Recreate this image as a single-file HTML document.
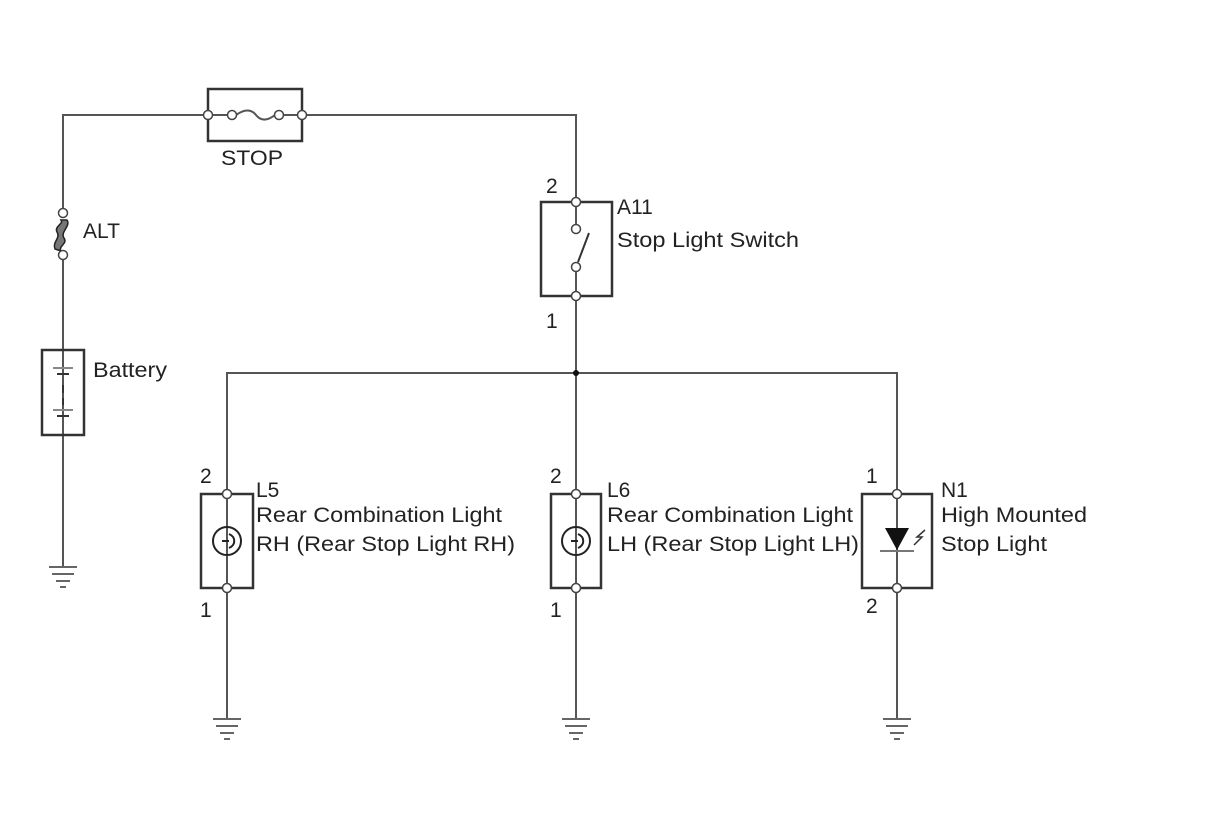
<!DOCTYPE html>
<html><head><meta charset="utf-8"><style>
html,body{margin:0;padding:0;background:#fff;}
svg{display:block;}
text{font-family:"Liberation Sans",sans-serif;font-size:21px;fill:#222;}
</style></head><body>
<svg width="1210" height="814" viewBox="0 0 1210 814" xmlns="http://www.w3.org/2000/svg">
<g stroke="#555" stroke-width="2" fill="none">
  <polyline points="63,213 63,115 208,115"/>
  <polyline points="302,115 576,115 576,202"/>
  <line x1="63" y1="255" x2="63" y2="567"/>
  <line x1="576" y1="202" x2="576" y2="229"/>
  <line x1="576" y1="267" x2="576" y2="296"/>
  <line x1="576" y1="296" x2="576" y2="718"/>
  <polyline points="227,494 227,373 897,373 897,494"/>
  <line x1="227" y1="494" x2="227" y2="718"/>
  <line x1="897" y1="494" x2="897" y2="718"/>
  <line x1="208" y1="115" x2="232" y2="115"/>
  <line x1="279" y1="115" x2="302" y2="115"/>
  <path d="M236,115 C246,108 252,110 256,115 C260,120 266,122 275,115"/>
</g>
<g stroke="#333" stroke-width="2.5" fill="none">
  <rect x="208" y="89" width="94" height="52"/>
  <rect x="42" y="350" width="42" height="85"/>
  <rect x="541" y="202" width="71" height="94"/>
  <rect x="201" y="494" width="52" height="94"/>
  <rect x="551" y="494" width="50" height="94"/>
  <rect x="862" y="494" width="70" height="94"/>
</g>
<g stroke="#333" stroke-width="2">
  <line x1="53" y1="368" x2="73" y2="368" stroke="#888"/>
  <line x1="57" y1="374" x2="69" y2="374"/>
  <line x1="63" y1="385" x2="63" y2="393"/>
  <line x1="63" y1="398" x2="63" y2="405"/>
  <line x1="53" y1="410" x2="73" y2="410" stroke="#888"/>
  <line x1="57" y1="416" x2="69" y2="416"/>
</g>
<path d="M67,220 C71,226 60,232 64,238 C68,244 58,246 61,251 L55,249 C52,242 61,238 57,232 C54,226 64,224 61,220 Z" fill="#777" stroke="#222" stroke-width="1.5"/>
<line x1="578" y1="262" x2="589" y2="233" stroke="#333" stroke-width="2"/>
<g stroke="#222" stroke-width="2" fill="none">
  <circle cx="227" cy="541" r="14"/>
  <path d="M229,534 C236,537 236,545 229,548"/>
  <line x1="222" y1="541" x2="229" y2="541"/>
  <circle cx="576" cy="541" r="14"/>
  <path d="M578,534 C585,537 585,545 578,548"/>
  <line x1="571" y1="541" x2="578" y2="541"/>
</g>
<polygon points="885,528 909,528 897,550" fill="#111"/>
<line x1="880" y1="551" x2="914" y2="551" stroke="#777" stroke-width="2"/>
<path d="M925,530 L917,537 L922,537 L914,545" stroke="#333" stroke-width="1.5" fill="none"/>
<g fill="#fff" stroke="#444" stroke-width="1.5">
  <circle cx="208" cy="115" r="4.5"/><circle cx="232" cy="115" r="4.5"/>
  <circle cx="279" cy="115" r="4.5"/><circle cx="302" cy="115" r="4.5"/>
  <circle cx="63" cy="213" r="4.5"/><circle cx="63" cy="255" r="4.5"/>
  <circle cx="576" cy="202" r="4.5"/><circle cx="576" cy="229" r="4.5"/>
  <circle cx="576" cy="267" r="4.5"/><circle cx="576" cy="296" r="4.5"/>
  <circle cx="227" cy="494" r="4.5"/><circle cx="227" cy="588" r="4.5"/>
  <circle cx="576" cy="494" r="4.5"/><circle cx="576" cy="588" r="4.5"/>
  <circle cx="897" cy="494" r="4.5"/><circle cx="897" cy="588" r="4.5"/>
</g>
<circle cx="576" cy="373" r="3" fill="#111"/>
<g stroke="#666" stroke-width="2">
  <line x1="49" y1="567" x2="77" y2="567"/><line x1="52" y1="574" x2="74" y2="574"/>
  <line x1="56" y1="581" x2="70" y2="581"/><line x1="60" y1="587" x2="66" y2="587"/>
  <line x1="213" y1="719" x2="241" y2="719"/><line x1="216" y1="726" x2="238" y2="726"/>
  <line x1="220" y1="733" x2="234" y2="733"/><line x1="224" y1="739" x2="230" y2="739"/>
  <line x1="562" y1="719" x2="590" y2="719"/><line x1="565" y1="726" x2="587" y2="726"/>
  <line x1="569" y1="733" x2="583" y2="733"/><line x1="573" y1="739" x2="579" y2="739"/>
  <line x1="883" y1="719" x2="911" y2="719"/><line x1="886" y1="726" x2="908" y2="726"/>
  <line x1="890" y1="733" x2="904" y2="733"/><line x1="894" y1="739" x2="900" y2="739"/>
</g>
<text x="221" y="165" textLength="62" lengthAdjust="spacingAndGlyphs">STOP</text>
<text x="83" y="238">ALT</text>
<text x="93" y="377" textLength="74" lengthAdjust="spacingAndGlyphs">Battery</text>
<text x="546" y="193">2</text>
<text x="546" y="328">1</text>
<text x="617" y="214">A11</text>
<text x="617" y="247" textLength="182" lengthAdjust="spacingAndGlyphs">Stop Light Switch</text>
<text x="200" y="483">2</text>
<text x="200" y="617">1</text>
<text x="256" y="497">L5</text>
<text x="256" y="522" textLength="246" lengthAdjust="spacingAndGlyphs">Rear Combination Light</text>
<text x="256" y="551" textLength="259" lengthAdjust="spacingAndGlyphs">RH (Rear Stop Light RH)</text>
<text x="550" y="483">2</text>
<text x="550" y="617">1</text>
<text x="607" y="497">L6</text>
<text x="607" y="522" textLength="246" lengthAdjust="spacingAndGlyphs">Rear Combination Light</text>
<text x="607" y="551" textLength="252" lengthAdjust="spacingAndGlyphs">LH (Rear Stop Light LH)</text>
<text x="866" y="483">1</text>
<text x="866" y="613">2</text>
<text x="941" y="497">N1</text>
<text x="941" y="522" textLength="146" lengthAdjust="spacingAndGlyphs">High Mounted</text>
<text x="941" y="551" textLength="106" lengthAdjust="spacingAndGlyphs">Stop Light</text>
</svg>
</body></html>
